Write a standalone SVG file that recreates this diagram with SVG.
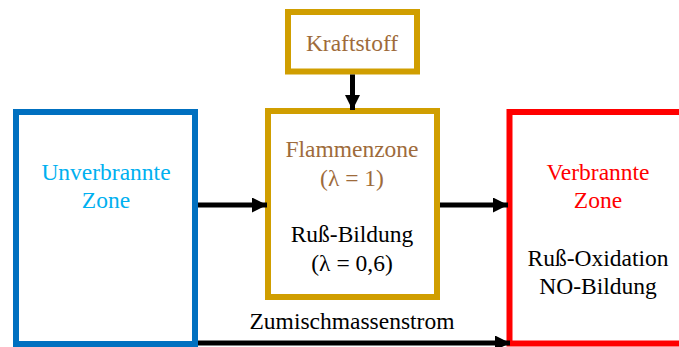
<svg xmlns="http://www.w3.org/2000/svg" width="679" height="347" viewBox="0 0 679 347">
<style>
text{font-family:'Liberation Serif','Tinos','Times New Roman','DejaVu Serif',serif;font-size:23.5px;text-anchor:middle}
.box{fill:#fff;stroke-width:6}
.conn{stroke:#000;stroke-width:5;fill:none}
</style>
<defs>
<marker id="ah" markerUnits="userSpaceOnUse" markerWidth="16" markerHeight="16" refX="15" refY="7.5" orient="auto">
<path d="M0,0 L15,7.5 L0,15 Z" fill="#000"/>
</marker>
</defs>
<rect width="679" height="347" fill="#fff"/>
<g id="unverbrannte">
<rect class="box" x="16" y="112" width="179" height="232" stroke="#0070C0"/>
<text x="106" y="180" fill="#00B0F0" font-family="Liberation Serif, serif">Unverbrannte</text>
<text x="106" y="208" fill="#00B0F0">Zone</text>
</g>
<g id="kraftstoff">
<rect class="box" x="288" y="12" width="129" height="59.5" stroke="#D09E00"/>
<text x="352" y="51" fill="#9E6B3B">Kraftstoff</text>
</g>
<g id="flammenzone">
<rect class="box" x="268" y="111" width="169" height="186" stroke="#D09E00"/>
<text x="352" y="157" fill="#9E6B3B">Flammenzone</text>
<text x="352" y="186" fill="#9E6B3B">(λ = 1)</text>
<text x="352" y="242" fill="#000">Ruß-Bildung</text>
<text x="352" y="271" fill="#000">(λ = 0,6)</text>
</g>
<g id="verbrannte">
<rect class="box" x="509.5" y="112" width="200" height="231.5" stroke="#FF0000"/>
<text x="598" y="180" fill="#FF0000">Verbrannte</text>
<text x="598" y="208" fill="#FF0000">Zone</text>
<text x="598" y="266" fill="#000">Ruß-Oxidation</text>
<text x="598" y="294" fill="#000">NO-Bildung</text>
</g>
<g id="connectors">
<line class="conn" x1="352.5" y1="74.5" x2="352.5" y2="110" marker-end="url(#ah)"/>
<line class="conn" x1="198" y1="205" x2="267" y2="205" marker-end="url(#ah)"/>
<line class="conn" x1="440" y1="205" x2="508" y2="205" marker-end="url(#ah)"/>
<line class="conn" x1="198" y1="343" x2="510" y2="343" marker-end="url(#ah)"/>
<text x="352" y="329" fill="#000">Zumischmassenstrom</text>
</g>
</svg>
